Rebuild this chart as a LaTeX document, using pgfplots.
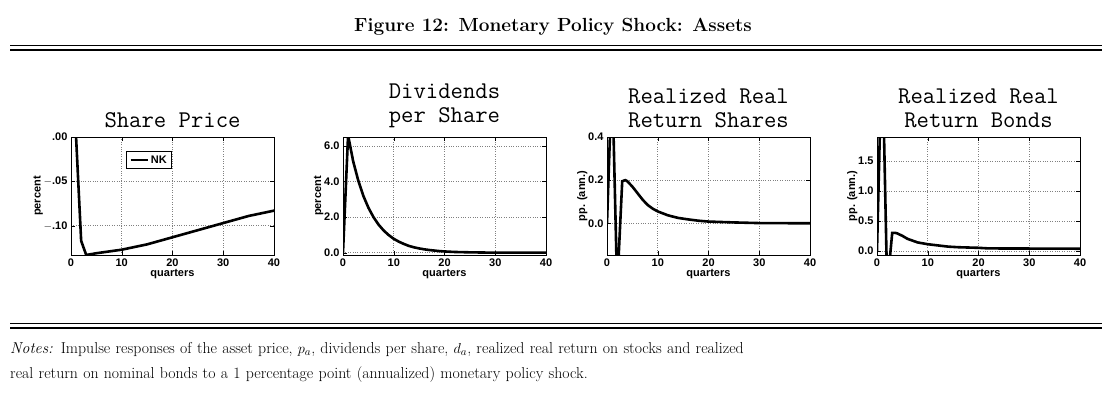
\documentclass[border=0pt]{standalone}
\usepackage{pgfplots}
\pgfplotsset{compat=1.18}
\usepackage{fontspec}
\newfontfamily\hv{Liberation Sans}
\begin{document}
\begin{tikzpicture}
\path[use as bounding box] (0pt,0pt) rectangle (1114pt,-408pt);
\node[font=\fontsize{19}{22}\selectfont\bfseries] at (553pt,-27pt) {Figure 12: Monetary Policy Shock: Assets};
\draw[line width=0.6pt] (10pt,-45pt)--(1102pt,-45pt);
\draw[line width=1.2pt] (10pt,-50pt)--(1102pt,-50pt);
\draw[line width=0.6pt] (10pt,-323pt)--(1102pt,-323pt);
\draw[line width=1.2pt] (10pt,-328pt)--(1102pt,-328pt);
\node[anchor=north west,text width=1100pt,align=left,inner sep=0pt,font=\fontsize{15.8}{25}\selectfont] at (10pt,-342pt) {\textit{Notes:} Impulse responses of the asset price, $p_a$, dividends per share, $d_a$, realized real return on stocks and realized\\real return on nominal bonds to a 1 percentage point (annualized) monetary policy shock.};
\pgfplotsset{panel/.style={scale only axis,width=203pt,height=118pt,anchor=south west,
 xmin=0,xmax=40,xtick={0,10,20,30,40},grid=major,
 major grid style={dotted,gray,line width=0.6pt},
 tick style={black}, tick align=inside,
 axis line style={line width=0.8pt},
 /pgf/number format/assume math mode=true,
 ticklabel style={font=\hv\bfseries\fontsize{11}{12}\selectfont},
 label style={font=\hv\bfseries\fontsize{11}{12}\selectfont},
 title style={font=\ttfamily\fontsize{24}{24}\selectfont,align=center},
 xlabel={quarters}, xlabel style={yshift=4pt},
 ylabel style={yshift=-6pt},
 clip=true}}
\begin{axis}[panel,at={(71pt,-255pt)},ymin=-0.133,ymax=0,ytick={-0.1,-0.05,0},yticklabels={$-$.10,$-$.05,.00},ylabel={percent},title={Share Price},
 legend style={at={(0.27,0.88)},anchor=north west,font=\hv\bfseries\fontsize{11}{12}\selectfont,draw=black,line width=0.8pt},legend cell align=left]
\addplot[black,line width=2.6pt] coordinates {(0,0.01)(1,0.0)(2,-0.117)(3,-0.133)(5,-0.131)(10,-0.127)(15,-0.121)(20,-0.113)(25,-0.105)(30,-0.097)(35,-0.089)(40,-0.083)};
\addlegendentry{NK}
\end{axis}
\begin{axis}[panel,at={(343pt,-255pt)},ymin=-0.13,ymax=6.5,ytick={0,2,4,6},yticklabels={0.0,2.0,4.0,6.0},ylabel={percent},title={Dividends\\per Share}]
\addplot[black,line width=2.6pt] coordinates {(0,0)(1,6.6)(2,5.14)(3,4.06)(4,3.2)(5,2.53)(6,2.0)(7,1.58)(8,1.25)(9,0.99)(10,0.78)(11,0.62)(12,0.49)(13,0.38)(14,0.3)(15,0.24)(16,0.19)(17,0.15)(18,0.12)(19,0.09)(20,0.07)(22,0.04)(25,0.02)(30,0.0)(40,0)};
\end{axis}
\begin{axis}[panel,at={(607pt,-255pt)},ymin=-0.147,ymax=0.4,ytick={0,0.2,0.4},yticklabels={0.0,0.2,0.4},ylabel={pp. (ann.)},title={Realized Real\\Return Shares}]
\addplot[black,line width=2.6pt] coordinates {(0,0)(1,0.7)(2,-0.3)(3,0.195)(3.6,0.2)(4,0.195)(5,0.17)(6,0.14)(7,0.11)(8,0.085)(9,0.068)(10,0.055)(12,0.037)(14,0.025)(16,0.018)(18,0.012)(20,0.008)(25,0.004)(30,0.001)(40,0)};
\end{axis}
\begin{axis}[panel,at={(877pt,-255pt)},ymin=-0.07,ymax=1.9,ytick={0,0.5,1,1.5},yticklabels={0.0,0.5,1.0,1.5},ylabel={pp. (ann.)},title={Realized Real\\Return Bonds}]
\addplot[black,line width=2.6pt] coordinates {(0,0)(1,3.5)(2,-0.6)(3,0.3)(3.6,0.3)(4,0.29)(5,0.25)(6,0.2)(7,0.17)(8,0.14)(10,0.11)(12,0.09)(14,0.07)(16,0.06)(20,0.05)(22,0.04)(40,0.035)};
\end{axis}
\end{tikzpicture}
\end{document}
